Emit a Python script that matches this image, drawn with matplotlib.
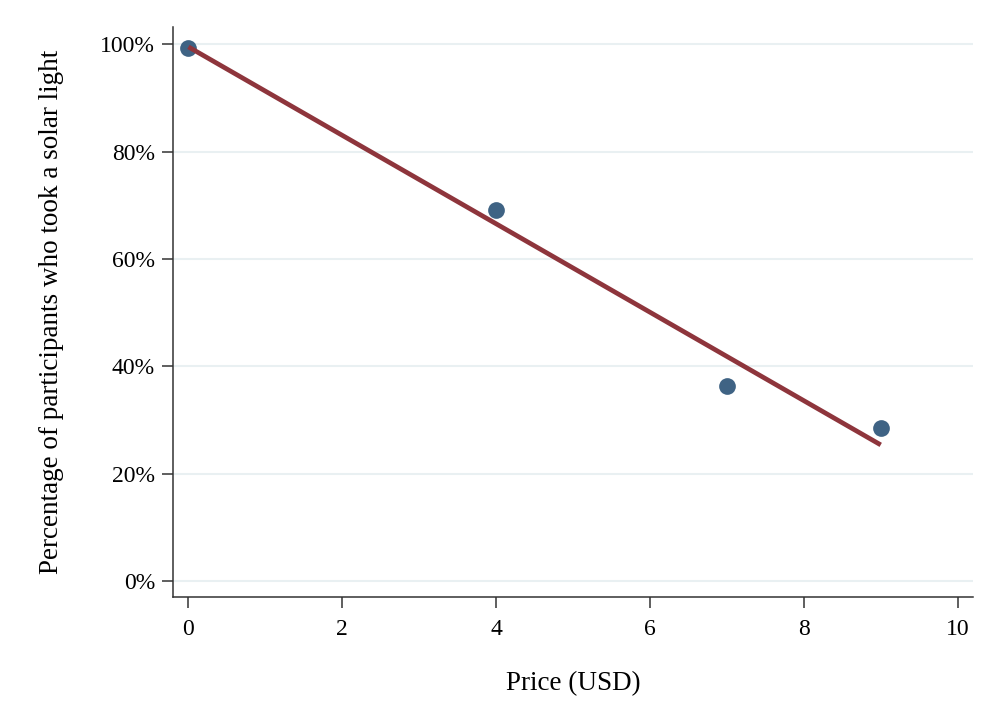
import numpy as np
import matplotlib
matplotlib.use("Agg")
import matplotlib.pyplot as plt
from matplotlib.ticker import FuncFormatter

price = [0, 4, 7, 9]
share = [99.3, 69.1, 36.3, 28.5]
xticks = [0, 2, 4, 6, 8, 10]
yticks = [0, 20, 40, 60, 80, 100]

plt.rcParams['font.family'] = ['Liberation Serif', 'DejaVu Serif']

fig = plt.figure(figsize=(9.99, 7.26), dpi=100)
ax = fig.add_axes([0.1732, 0.1777, 0.8008, 0.7851])

slope, intercept = np.polyfit(price, share, 1)
xf = np.array([min(price), max(price)])

ax.scatter(price, share, s=145, color='#3f6384', zorder=3, linewidths=0)
ax.plot(xf, intercept + slope * xf, color='#8e353c', lw=3.4, zorder=4,
        solid_capstyle='butt')

ax.set_xlim(-0.2, 10.2)
ax.set_ylim(-3, 103.2)
ax.set_xticks(xticks)
ax.set_yticks(yticks)
ax.yaxis.set_major_formatter(FuncFormatter(lambda v, p: f"{v:.0f}%"))
ax.grid(axis='y', color='#e9f0f2', lw=1.5)
ax.set_axisbelow(True)
for s in ['top', 'right']:
    ax.spines[s].set_visible(False)
for s in ['left', 'bottom']:
    ax.spines[s].set_color('#333333')
    ax.spines[s].set_linewidth(1.1)
ax.tick_params(axis='both', direction='out', length=8, width=1.1,
               color='#333333', labelsize=17, labelcolor='black')
ax.tick_params(axis='y', pad=5)
ax.tick_params(axis='x', pad=8)

ax.set_xlabel('Price (USD)', fontsize=19.5, labelpad=22)
ax.set_ylabel('Percentage of participants who took a solar light', fontsize=19.5,
              labelpad=26)

fig.savefig('out.png', dpi=100, facecolor='white')
